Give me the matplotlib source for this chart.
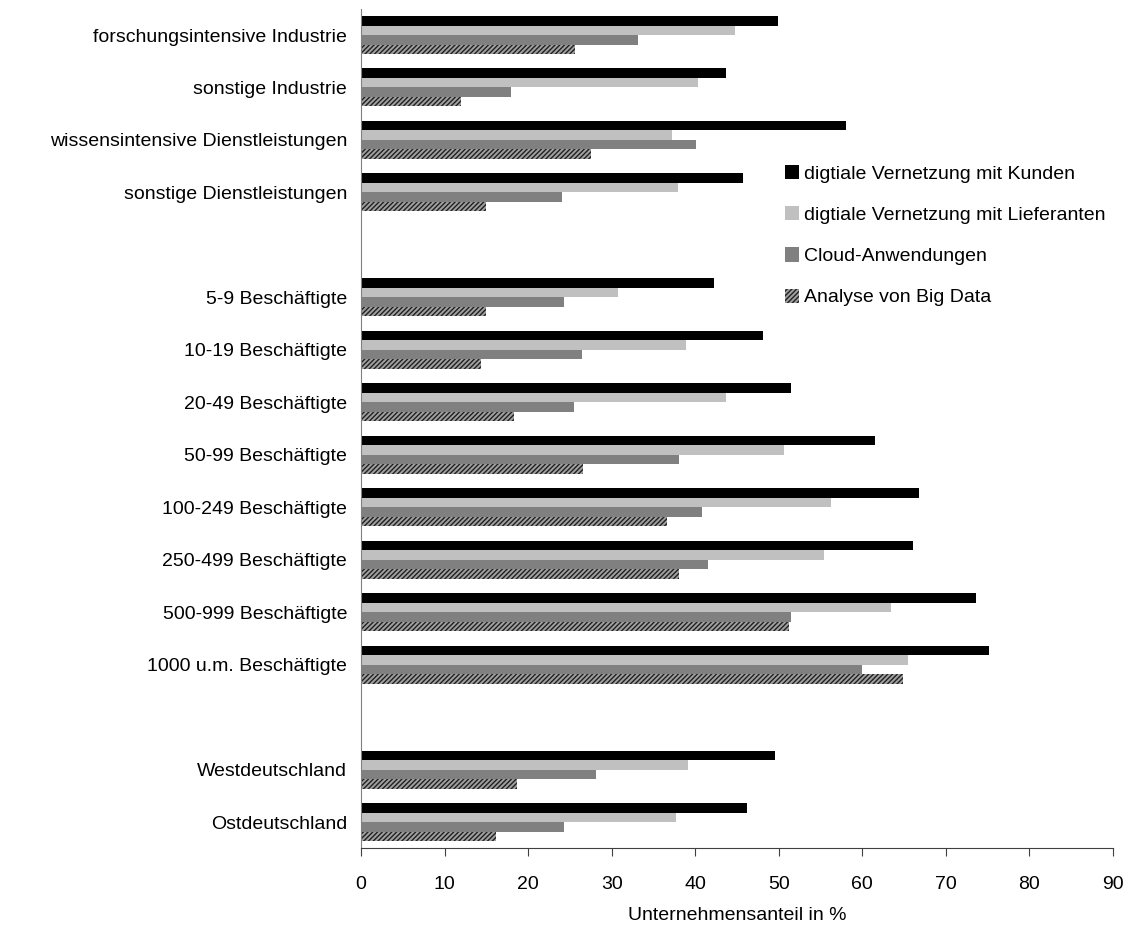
import numpy as np
import matplotlib.pyplot as plt

plt.rcParams['font.family'] = ['Liberation Sans', 'DejaVu Sans']
plt.rcParams['hatch.linewidth'] = 1.0

# Kategorien in drei Blöcken: Branchen, Größenklassen, Regionen
branchen = ['forschungsintensive Industrie', 'sonstige Industrie',
            'wissensintensive Dienstleistungen', 'sonstige Dienstleistungen']
groessen = ['5-9 Beschäftigte', '10-19 Beschäftigte', '20-49 Beschäftigte',
            '50-99 Beschäftigte', '100-249 Beschäftigte', '250-499 Beschäftigte',
            '500-999 Beschäftigte', '1000 u.m. Beschäftigte']
regionen = ['Westdeutschland', 'Ostdeutschland']

# Unternehmensanteile in % (gleiche Reihenfolge wie oben)
kunden = [49.9, 43.7, 58.1, 45.7,
          42.2, 48.1, 51.4, 61.5, 66.8, 66.1, 73.6, 75.2,
          49.5, 46.2]
lieferanten = [44.8, 40.3, 37.2, 37.9,
               30.7, 38.9, 43.7, 50.6, 56.2, 55.4, 63.4, 65.5,
               39.1, 37.7]
cloud = [33.1, 18.0, 40.1, 24.0,
         24.3, 26.4, 25.5, 38.1, 40.8, 41.5, 51.4, 60.0,
         28.1, 24.3]
bigdata = [25.6, 12.0, 27.5, 14.9,
           14.9, 14.4, 18.3, 26.6, 36.6, 38.1, 51.2, 64.9,
           18.7, 16.1]

labels = branchen + groessen + regionen
# Zeilenpositionen mit je einer Leerzeile zwischen den Blöcken
pos = np.concatenate([np.arange(len(branchen)),
                      len(branchen) + 1 + np.arange(len(groessen)),
                      len(branchen) + len(groessen) + 2 + np.arange(len(regionen))])

fig = plt.figure(figsize=(11.41, 9.25), dpi=100)
ax = fig.add_axes([0.3164, 0.0829, 0.6591, 0.9076])

h = 0.181
series = [
    (kunden, 'digtiale Vernetzung mit Kunden', dict(color='black')),
    (lieferanten, 'digtiale Vernetzung mit Lieferanten', dict(color='#c0c0c0')),
    (cloud, 'Cloud-Anwendungen', dict(color='#808080')),
    (bigdata, 'Analyse von Big Data', dict(facecolor='#a0a0a0', edgecolor='#202020',
                                           hatch='///////', linewidth=0)),
]
for i, (vals, name, style) in enumerate(series):
    ax.barh(pos + (i - 1.5) * h, vals, height=h, label=name, **style)

ax.set_ylim(len(labels) + 1.5, -0.5)
ax.set_xlim(0, 90)
ax.set_xticks(np.arange(0, 91, 10))
ax.set_yticks(pos)
ax.set_yticklabels(labels, fontsize=14)
ax.tick_params(axis='y', length=0, pad=10)
ax.tick_params(axis='x', labelsize=14, length=6, direction='out', pad=14, color='#404040')
ax.set_xlabel('Unternehmensanteil in %', fontsize=14, labelpad=10)

for s in ['top', 'right']:
    ax.spines[s].set_visible(False)
ax.spines['left'].set_color('#808080')
ax.spines['bottom'].set_color('#404040')

leg = ax.legend(loc='upper left', bbox_to_anchor=(0.54, 0.835), frameon=False,
                fontsize=14, handlelength=0.75, handleheight=0.75,
                handletextpad=0.25, labelspacing=1.2)

fig.savefig('out.png', dpi=100)
